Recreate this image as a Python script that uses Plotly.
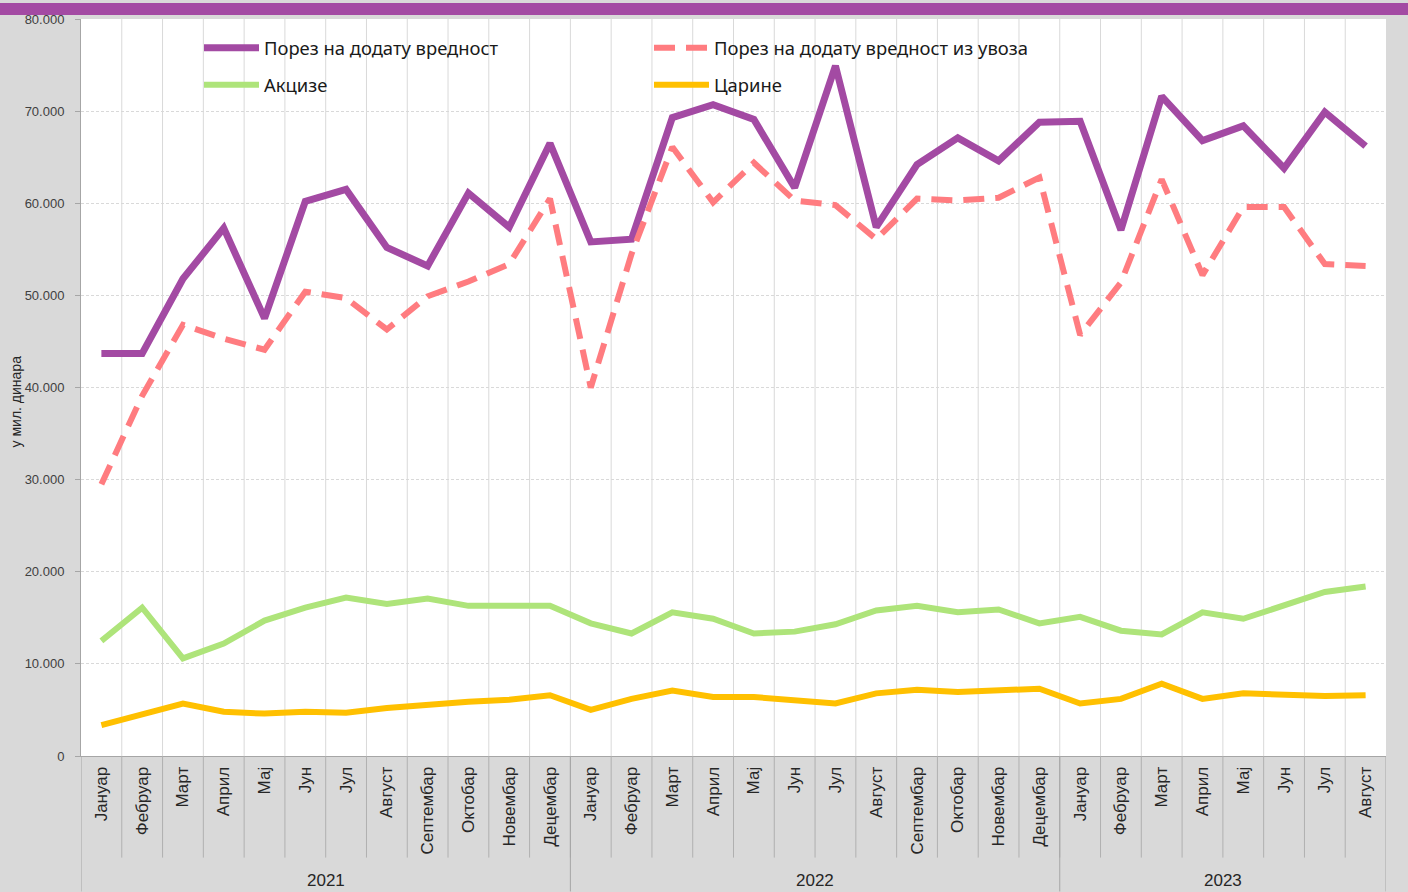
import plotly.graph_objects as go

# ---------------- data ----------------
months = ["Јануар", "Фебруар", "Март", "Април", "Мај", "Јун", "Јул", "Август",
          "Септембар", "Октобар", "Новембар", "Децембар"]
years = ["2021", "2022", "2023"]
months_per_year = [12, 12, 8]
month_labels = months * 2 + months[:8]

pdv = [43700, 43700, 51800, 57300, 47500, 60200, 61500, 55200, 53200, 61100, 57400, 66500,
       55800, 56100, 69300, 70700, 69100, 61700, 74900, 57400, 64200, 67100, 64600, 68800,
       68900, 57100, 71600, 66800, 68400, 63800, 69900, 66200]
pdv_import = [29500, 39100, 46800, 45300, 44100, 50400, 49700, 46300, 49900, 51500, 53400, 60500,
              40000, 54500, 66100, 60100, 64400, 60300, 59800, 56100, 60500, 60300, 60600, 62800,
              45700, 51400, 62600, 52200, 59600, 59600, 53400, 53200]
akcize = [12500, 16100, 10600, 12200, 14700, 16100, 17200, 16500, 17100, 16300, 16300, 16300,
          14400, 13300, 15600, 14900, 13300, 13500, 14300, 15800, 16300, 15600, 15900, 14400,
          15100, 13600, 13200, 15600, 14900, 16300, 17800, 18400]
carine = [3350, 4600, 5700, 4800, 4600, 4800, 4700, 5200, 5600, 5900, 6100, 6600,
          5000, 6200, 7100, 6400, 6400, 6050, 5700, 6800, 7200, 6950, 7200, 7300,
          5700, 6200, 7850, 6200, 6800, 6700, 6500, 6600]

series_names = ["Порез на додату вредност", "Порез на додату вредност из увоза", "Акцизе", "Царине"]
y_title = "у мил. динара"

# ---------------- geometry ----------------
W, H = 1408, 892
ML, MR, MT, MB = 81, 22, 16, 136
PW, PH = W - ML - MR, H - MT - MB


def py(p):  # pixel y -> paper y
    return (H - MB - p) / PH


def px(p):  # pixel x -> paper x
    return (p - ML) / PW


n = len(month_labels)
x = list(range(n))

PURPLE = "#A34AA3"
PINK = "#FF7C80"
GREEN = "#AEE47A"
YELLOW = "#FFC000"

fig = go.Figure()
fig.add_trace(go.Scatter(x=x, y=pdv, mode="lines", name=series_names[0],
                         line=dict(color=PURPLE, width=7), legend="legend"))
fig.add_trace(go.Scatter(x=x, y=pdv_import, mode="lines", name=series_names[1],
                         line=dict(color=PINK, width=6, dash="21px,11px"), legend="legend2"))
fig.add_trace(go.Scatter(x=x, y=akcize, mode="lines", name=series_names[2],
                         line=dict(color=GREEN, width=6), legend="legend3"))
fig.add_trace(go.Scatter(x=x, y=carine, mode="lines", name=series_names[3],
                         line=dict(color=YELLOW, width=6), legend="legend4"))

shapes = []
# vertical grid lines inside plot
for i in range(n - 1):
    shapes.append(dict(type="line", xref="x", yref="paper", x0=i + 0.5, x1=i + 0.5,
                       y0=0, y1=1, line=dict(color="#D9D9D9", width=1), layer="below"))
# month separators in label area
for i in range(n - 1):
    shapes.append(dict(type="line", xref="x", yref="paper", x0=i + 0.5, x1=i + 0.5,
                       y0=py(858), y1=0, line=dict(color="#B0B0B0", width=1)))
# year separators
bounds = [-0.5]
for c in months_per_year:
    bounds.append(bounds[-1] + c)
for b in bounds:
    shapes.append(dict(type="line", xref="x", yref="paper", x0=b, x1=b,
                       y0=py(H), y1=0, line=dict(color="#A6A6A6", width=1)))
# top purple band
shapes.append(dict(type="rect", xref="paper", yref="paper", x0=px(0), x1=px(W),
                   y0=py(12), y1=py(0), fillcolor=PURPLE, line=dict(width=0), layer="above"))

annotations = []
start = 0
for yr, c in zip(years, months_per_year):
    annotations.append(dict(text=yr, xref="x", yref="paper", x=start + (c - 1) / 2, y=py(881),
                            showarrow=False, xanchor="center", yanchor="middle",
                            font=dict(family="Liberation Sans, Arial", size=17, color="#262626")))
    start += c
annotations.append(dict(text=y_title, xref="paper", yref="paper", x=px(16), y=py(400),
                        textangle=-90, showarrow=False, xanchor="center", yanchor="middle",
                        font=dict(family="Liberation Sans, Arial", size=14, color="#262626")))

leg_font = dict(family="Noto Sans, Open Sans, sans-serif", size=18.4, color="#1A1A1A")


def leg(xp, yp):
    return dict(x=px(xp), y=py(yp), xanchor="left", yanchor="middle", bgcolor="rgba(0,0,0,0)",
                borderwidth=0, font=leg_font, itemwidth=55, orientation="v")


fig.update_layout(
    width=W, height=H,
    margin=dict(l=ML, r=MR, t=MT, b=MB, pad=0),
    paper_bgcolor="#D9D9D9",
    plot_bgcolor="#FFFFFF",
    separators=",.",
    showlegend=True,
    legend=leg(199, 45),
    legend2=leg(649, 45),
    legend3=leg(199, 82),
    legend4=leg(649, 82),
    xaxis=dict(range=[-0.5, n - 0.5], tickmode="array", tickvals=x, ticktext=month_labels,
               tickangle=-90, showgrid=False, zeroline=False, showline=True,
               linecolor="#A6A6A6", linewidth=1, ticks="", ticklabelstandoff=3,
               tickfont=dict(family="Liberation Sans, Arial", size=17, color="#262626")),
    yaxis=dict(range=[0, 80000], tick0=0, dtick=10000, tickformat=",d",
               showgrid=True, gridcolor="#D9D9D9", griddash="3px,2px", gridwidth=1,
               zeroline=False, showline=True, linecolor="#A6A6A6", linewidth=1,
               ticks="outside", ticklen=5, tickcolor="#A6A6A6", ticklabelstandoff=8,
               tickfont=dict(family="Liberation Sans, Arial", size=13, color="#404040")),
    shapes=shapes,
    annotations=annotations,
)

fig.write_html("out.html", config={"displayModeBar": False},
               post_script="document.body.style.margin='0';document.body.style.overflow='hidden';")
